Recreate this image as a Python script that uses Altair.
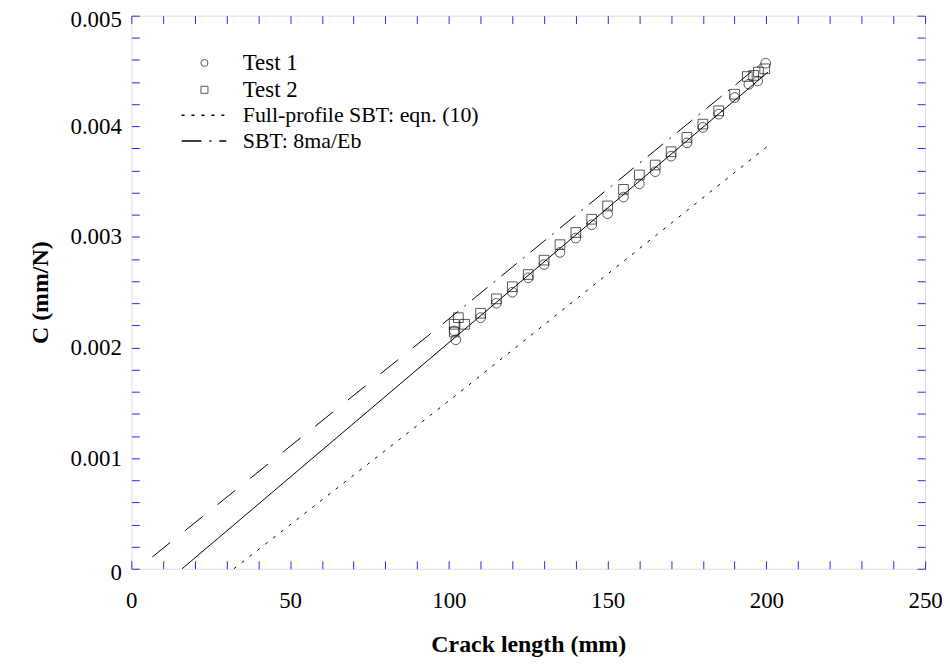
import altair as alt
import pandas as pd

# ---------------- data ----------------
test1_a = [101.7, 102.2, 110, 115, 120, 125, 130, 135, 140, 145, 150, 155, 160,
           165, 170, 175, 180, 185, 190, 194.5, 197.3, 199.8]
test1_c = [0.00215, 0.00207, 0.00227, 0.00240, 0.00250, 0.00263, 0.00275, 0.00286,
           0.00299, 0.00311, 0.00321, 0.00336, 0.00348, 0.00359, 0.00373, 0.00385,
           0.00399, 0.00411, 0.00426, 0.00438, 0.00441, 0.00457]

test2_a = [101.7, 101.7, 103.0, 105.0, 110, 115, 120, 125, 130, 135, 140, 145, 150,
           155, 160, 165, 170, 175, 180, 185, 190, 194, 196, 197.5, 199.5]
test2_c = [0.00214, 0.00221, 0.00227, 0.00221, 0.00231, 0.00244, 0.00255, 0.00266,
           0.00279, 0.00293, 0.00304, 0.00316, 0.00328, 0.00343, 0.00356, 0.00365,
           0.00377, 0.00390, 0.00402, 0.00414, 0.00429, 0.00445, 0.00446, 0.00449,
           0.00452]

fit_a = [16.0, 200.5]
fit_c = [0.0, 0.00449]

sbt_low_a = [6.6, 98.1]
sbt_low_c = [0.000107, 0.002214]

sbt_a = [98.1, 199.0]
sbt_c = [0.002214, 0.00458]

full_a = [32.3, 101.2, 200.8]
full_c = [0.0, 0.001545, 0.00383]

x_major = [0, 50, 100, 150, 200, 250]
y_major = [0, 0.001, 0.002, 0.003, 0.004, 0.005]
x_minor = [0, 10, 20, 30, 40, 50, 60, 70, 80, 90, 100, 110, 120, 130, 140, 150,
           160, 170, 180, 190, 200, 210, 220, 230, 240, 250]
y_minor = [0, 0.0002, 0.0004, 0.0006, 0.0008, 0.001, 0.0012, 0.0014, 0.0016,
           0.0018, 0.002, 0.0022, 0.0024, 0.0026, 0.0028, 0.003, 0.0032, 0.0034,
           0.0036, 0.0038, 0.004, 0.0042, 0.0044, 0.0046, 0.0048, 0.005]

names_pts = ["Test 1", "Test 2"]
names_lines = ["Full-profile SBT: eqn. (10)", "SBT: 8ma/Eb"]

# ---------------- tables ----------------
pts = pd.DataFrame({
    "a": test1_a + test2_a,
    "c": test1_c + test2_c,
    "series": [names_pts[0]] * len(test1_a) + [names_pts[1]] * len(test2_a),
})
lines = pd.DataFrame({
    "a": full_a + sbt_a,
    "c": full_c + sbt_c,
    "series": [names_lines[0]] * len(full_a) + [names_lines[1]] * len(sbt_a),
})
fit = pd.DataFrame({"a": fit_a, "c": fit_c})
sbt_low = pd.DataFrame({"a": sbt_low_a, "c": sbt_low_c})

W, H = 798, 556
BLUE = "#2828f0"
FONT = "Liberation Serif"

xs = alt.Scale(domain=[0, 250], nice=False, zero=False)
ys = alt.Scale(domain=[0, 0.005], nice=False)

lab_x = alt.Axis(values=x_major, ticks=False, domain=False, grid=False,
                 labelFlush=False,
                 labelFont=FONT, labelFontSize=23, labelColor="black",
                 labelPadding=21, title="Crack length (mm)", titleFont=FONT,
                 titleFontSize=24, titleFontWeight="bold", titleColor="black",
                 titlePadding=20)
lab_y = alt.Axis(values=y_major, ticks=False, domain=False, grid=False,
                 labelFlush=False,
                 labelExpr="datum.value == 0 ? '0' : format(datum.value, '.3f')",
                 labelFont=FONT, labelFontSize=23, labelColor="black",
                 labelPadding=10,
                 labelOffset={"condition": {"test": "datum.value == 0 || datum.value > 0.0049",
                                            "value": 4}, "value": 0},
                 title="C (mm/N)", titleFont=FONT,
                 titleFontSize=24, titleFontWeight="bold", titleColor="black",
                 titlePadding=18)

def tick_axis(orient, offset, vals):
    return alt.Axis(orient=orient, offset=offset, values=vals, labels=False,
                    domain=False, grid=False, ticks=True, tickColor=BLUE,
                    tickSize=8, tickWidth=1, title="")

points = alt.Chart(pts).mark_point(filled=False, strokeWidth=1, color="#111",
                                   size=95).encode(
    x=alt.X("a:Q", scale=xs, axis=lab_x),
    y=alt.Y("c:Q", scale=ys, axis=lab_y),
    shape=alt.Shape("series:N",
                    scale=alt.Scale(domain=names_pts, range=["circle", "square"]),
                    legend=alt.Legend(orient="none", legendX=62, legendY=36,
                                      title=None, labelFont=FONT, labelFontSize=23,
                                      labelColor="black", symbolSize=50,
                                      symbolStrokeWidth=1, symbolStrokeColor="#111",
                                      symbolFillColor="transparent",
                                      rowPadding=3, labelOffset=27, padding=0)),
)

legend_lines = alt.Chart(lines).mark_line(color="black", strokeWidth=1).encode(
    x=alt.X("a:Q", scale=xs, axis=tick_axis("top", -H, x_minor)),
    y=alt.Y("c:Q", scale=ys, axis=tick_axis("right", -W, y_minor)),
    strokeDash=alt.StrokeDash("series:N",
                              scale=alt.Scale(domain=names_lines,
                                              range=[[3, 7], [20, 8, 2, 8]]),
                              legend=alt.Legend(orient="none", legendX=62, legendY=89,
                                                title=None, labelFont=FONT,
                                                labelFontSize=22, labelColor="black",
                                                labelLimit=500,
                                                symbolType="M-5,0H5", symbolSize=81,
                                                symbolStrokeWidth=1.6,
                                                symbolStrokeColor="black",
                                                symbolFillColor="transparent",
                                                rowPadding=4, labelOffset=28,
                                                padding=0)),
)

fit_line = alt.Chart(fit).mark_line(color="black", strokeWidth=1).encode(
    x=alt.X("a:Q", scale=xs, axis=tick_axis("bottom", -H, x_minor)),
    y=alt.Y("c:Q", scale=ys, axis=tick_axis("left", -W, y_minor)),
)

low_line = alt.Chart(sbt_low).mark_line(color="black", strokeWidth=1,
                                        strokeDash=[23, 19]).encode(
    x=alt.X("a:Q", scale=xs, axis=None),
    y=alt.Y("c:Q", scale=ys, axis=None),
)

chart = alt.layer(low_line, fit_line, legend_lines, points).resolve_axis(
    x="independent", y="independent"
).properties(
    width=W, height=H,
    autosize=alt.AutoSizeParams(type="none"),
    padding={"left": 124, "top": 6, "right": 17, "bottom": 90},
).configure_view(stroke=BLUE, strokeWidth=1.2).configure(font=FONT)

chart.save("out.html", embed_options={"renderer": "svg", "actions": False})
